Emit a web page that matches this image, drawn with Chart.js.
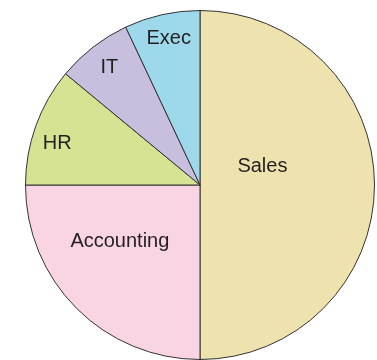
<!DOCTYPE html>
<html>
<head>
<meta charset="utf-8">
<script src="https://cdn.jsdelivr.net/npm/chart.js@4/dist/chart.umd.min.js"></script>
<style>
  html, body { margin: 0; padding: 0; background: #ffffff; }
  #wrap { width: 377px; height: 360px; position: relative; }
</style>
</head>
<body>
<div id="wrap"><canvas id="c"></canvas></div>
<script>
// Data
const categories = ["Sales", "Accounting", "HR", "IT", "Exec"];
const values = [50, 25, 11, 7, 7];

// Styles
const sliceColors = ["#EEE2AF", "#F9D5E4", "#D5E392", "#C8BFDE", "#9DD9EA"];
// label placement: [fraction of radius, angle offset from slice middle in degrees]
const labelPlacement = [[0.376, -18], [0.554, 11], [0.855, -3], [0.858, 0.5], [0.87, 0.7]];
const labelShiftY = 2;

const sliceLabels = {
  id: 'sliceLabels',
  afterDatasetsDraw(chart) {
    const ctx = chart.ctx;
    const meta = chart.getDatasetMeta(0);
    ctx.save();
    ctx.font = '20px "Liberation Sans", Arial, sans-serif';
    ctx.fillStyle = '#231F20';
    ctx.textAlign = 'center';
    ctx.textBaseline = 'middle';
    meta.data.forEach((arc, i) => {
      const p = arc.getProps(['x', 'y', 'startAngle', 'endAngle', 'outerRadius'], true);
      const mid = (p.startAngle + p.endAngle) / 2 + labelPlacement[i][1] * Math.PI / 180;
      const r = p.outerRadius * labelPlacement[i][0];
      ctx.fillText(categories[i], p.x + Math.cos(mid) * r, p.y + Math.sin(mid) * r + labelShiftY);
    });
    ctx.restore();
  }
};

new Chart(document.getElementById('c'), {
  type: 'pie',
  data: {
    labels: categories,
    datasets: [{
      data: values,
      backgroundColor: sliceColors,
      borderColor: '#333333',
      borderWidth: 1
    }]
  },
  options: {
    responsive: true,
    maintainAspectRatio: false,
    animation: false,
    layout: { padding: { left: 24, right: 1, top: 10, bottom: 0 } },
    plugins: {
      legend: { display: false },
      tooltip: { enabled: false }
    }
  },
  plugins: [sliceLabels]
});
</script>
</body>
</html>
